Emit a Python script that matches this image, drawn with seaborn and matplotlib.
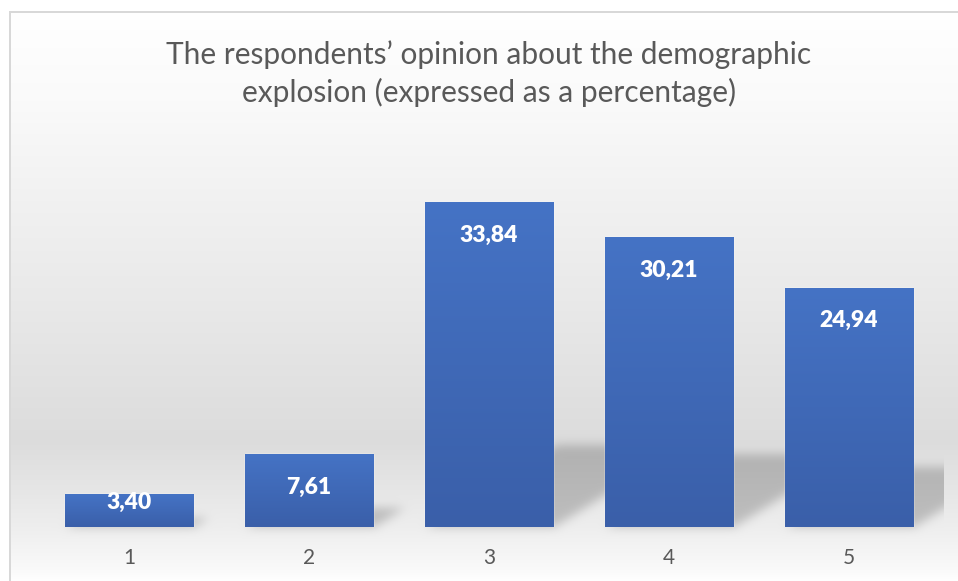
import numpy as np
import pandas as pd
import matplotlib
matplotlib.use("Agg")
import matplotlib.pyplot as plt
import seaborn as sns
from matplotlib.colors import LinearSegmentedColormap

# ---- data -------------------------------------------------------------
categories = ["1", "2", "3", "4", "5"]
percentages = [3.40, 7.61, 33.84, 30.21, 24.94]
value_labels = ["3,40", "7,61", "33,84", "30,21", "24,94"]
title_text = "The respondents’ opinion about the demographic\nexplosion (expressed as a percentage)"

# ---- styling ----------------------------------------------------------
sns.set_theme(style="white")
plt.rcParams["font.family"] = ["Lato", "DejaVu Sans"]
TEXT_GREY = "#595959"
BAR_TOP = "#4573C5"
BAR_BOTTOM = "#3A5FA9"

W, H = 958, 581
fig = plt.figure(figsize=(W / 100, H / 100), dpi=100)
fig.patch.set_facecolor("white")

bg_ax = fig.add_axes([0, 0, 1, 1], zorder=0)
bg_ax.set_axis_off()

ax = fig.add_axes([39 / W, 1 - 527 / H, 900 / W, (527 - 143) / H], zorder=1)
ax.patch.set_alpha(0)

df = pd.DataFrame({"category": categories, "percent": percentages})
sns.barplot(data=df, x="category", y="percent", ax=ax, color=BAR_TOP,
            width=0.716, saturation=1, errorbar=None)
ax.set_xlim(-0.5, len(categories) - 0.5)
ax.set_ylim(0, 40)
ax.set_xlabel("")
ax.set_ylabel("")
ax.set_yticks([])
for s in ax.spines.values():
    s.set_visible(False)
ax.tick_params(axis="x", length=0, pad=15, labelsize=15, labelcolor=TEXT_GREY)

# vertical gradient inside each bar
bar_cmap = LinearSegmentedColormap.from_list("bar", [BAR_BOTTOM, BAR_TOP])
grad = np.linspace(0, 1, 256).reshape(-1, 1)
for patch in ax.patches:
    x0, y0 = patch.get_x(), patch.get_y()
    w, h = patch.get_width(), patch.get_height()
    im = ax.imshow(grad, cmap=bar_cmap, origin="lower", aspect="auto",
                   extent=[x0, x0 + w, y0, y0 + h], zorder=patch.get_zorder() + 0.1)
    im.set_clip_path(patch)
ax.set_xlim(-0.5, len(categories) - 0.5)
ax.set_ylim(0, 40)

fig.canvas.draw()

# value labels inside the top end of each bar
for patch, lab in zip(ax.patches, value_labels):
    bb = patch.get_window_extent()
    hpx = bb.height
    offset = min(33, max(hpx - 25, 0))
    ax.annotate(lab, (patch.get_x() + patch.get_width() / 2, patch.get_height()),
                xytext=(0, -offset * 0.72), textcoords="offset points",
                ha="center", va="center", color="white", fontsize=16.5,
                fontweight="heavy", zorder=5)

# ---- background: soft vertical gradient plus perspective bar shadows ----
rows = np.arange(H)
stops_y = [0, 12, 100, 200, 300, 440, 480, 527, 570, 581]
stops_v = [255, 255, 250, 241, 233, 220, 228, 238, 250, 255]
col = np.interp(rows, stops_y, stops_v) / 255.0
bg = np.ones((H, W)) * col[:, None]
bg[:, :10] = 1.0
bg[:12, :] = 1.0

mask = np.zeros((H, W))
for patch in ax.patches:
    bb = patch.get_window_extent()
    x0, x1 = bb.x0, bb.x1
    base = H - bb.y0
    top = H - bb.y1
    sh = 0.25 * (base - top)
    for r in range(int(base - sh), int(base)):
        d = base - r
        shift = 1.6 * d
        a, b = int(round(x0 + shift)), int(round(x1 + shift))
        mask[r, max(a, 0):min(b, W)] = 1.0

def blur(arr, sigma):
    rad = int(3 * sigma)
    k = np.exp(-0.5 * (np.arange(-rad, rad + 1) / sigma) ** 2)
    k /= k.sum()
    out = np.zeros_like(arr)
    padded = np.pad(arr, ((0, 0), (rad, rad)))
    for i, kv in enumerate(k):
        out += kv * padded[:, i:i + arr.shape[1]]
    out2 = np.zeros_like(out)
    padded = np.pad(out, ((rad, rad), (0, 0)))
    for i, kv in enumerate(k):
        out2 += kv * padded[i:i + arr.shape[0], :]
    return out2

mask = blur(mask, 5)
mask[:, 944:] = 0
bg = bg * (1 - 0.2 * mask)

# chart frame (top and left edges)
bg[11:13, 9:] = 0.85
bg[11:, 9:11] = 0.85

bg_ax.imshow(np.dstack([bg, bg, bg]), extent=[0, 1, 0, 1], aspect="auto",
             interpolation="nearest")
bg_ax.set_xlim(0, 1)
bg_ax.set_ylim(0, 1)

fig.text(489 / W, 1 - 73.5 / H, title_text, ha="center", va="center",
         fontsize=21.5, color=TEXT_GREY, linespacing=1.4)

fig.savefig("out.png", dpi=100, facecolor="white")
